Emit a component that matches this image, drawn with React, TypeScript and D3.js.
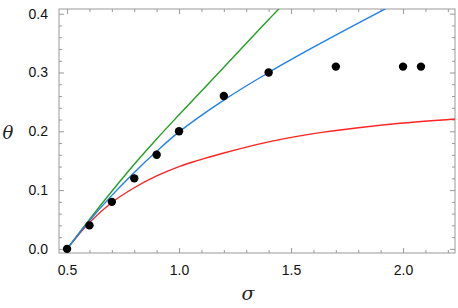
import React, { useEffect, useRef } from "react";
import * as d3 from "d3";

// data points (sigma, theta)
const dotSigma = [0.5, 0.6, 0.7, 0.8, 0.9, 1.0, 1.2, 1.4, 1.7, 2.0, 2.08];
const dotTheta = [0, 0.04, 0.08, 0.12, 0.16, 0.2, 0.26, 0.3, 0.31, 0.31, 0.31];

// curves
const greenSigma = [0.5, 0.6, 0.7, 0.8, 0.9, 1.0, 1.2, 1.4, 1.46];
const greenTheta = [0, 0.05, 0.098, 0.144, 0.187, 0.228, 0.309, 0.39, 0.414];

const blueSigma = [0.5, 0.6, 0.7, 0.8, 0.9, 1.0, 1.2, 1.4, 1.6, 1.8, 1.95];
const blueTheta = [0, 0.048, 0.091, 0.13, 0.166, 0.199, 0.253, 0.3, 0.343, 0.384, 0.414];

const redSigma = [0.5, 0.6, 0.7, 0.8, 0.9, 1.0, 1.2, 1.4, 1.6, 1.8, 2.0, 2.232];
const redTheta = [0, 0.045, 0.079, 0.104, 0.124, 0.14, 0.163, 0.182, 0.196, 0.206, 0.214, 0.221];

const xMajor = [0.5, 1.0, 1.5, 2.0];
const xMinor = [0.6, 0.7, 0.8, 0.9, 1.1, 1.2, 1.3, 1.4, 1.6, 1.7, 1.8, 1.9, 2.1, 2.2];
const yMajor = [0.0, 0.1, 0.2, 0.3, 0.4];
const yMinor = [0.02, 0.04, 0.06, 0.08, 0.12, 0.14, 0.16, 0.18, 0.22, 0.24, 0.26, 0.28, 0.32, 0.34, 0.36, 0.38];

const W = 458, H = 308;

export default function App() {
  const ref = useRef<SVGSVGElement>(null);

  useEffect(() => {
    const svg = d3.select(ref.current);
    svg.selectAll("*").remove();

    const left = 59, right = 455, top = 9, bottom = 253;
    const x = d3.scaleLinear().domain([0.464, 2.232]).range([left, right]);
    const y = d3.scaleLinear().domain([-0.007, 0.408]).range([bottom, top]);

    svg.append("defs").append("clipPath").attr("id", "plotclip")
      .append("rect")
      .attr("x", left).attr("y", top)
      .attr("width", right - left).attr("height", bottom - top);

    const frameColor = "#999";
    const styleAxis = (g: any) => {
      g.select(".domain").remove();
      g.selectAll("line").attr("stroke", frameColor);
      g.selectAll("text")
        .attr("fill", "#111")
        .style("font-family", "'Liberation Sans', Arial, sans-serif")
        .style("font-size", "14px");
    };

    // bottom
    svg.append("g").attr("transform", `translate(0,${bottom})`)
      .call(d3.axisBottom(x).tickValues(xMajor).tickSize(-5).tickPadding(12).tickFormat(d3.format(".1f")))
      .call(styleAxis);
    svg.append("g").attr("transform", `translate(0,${bottom})`)
      .call(d3.axisBottom(x).tickValues(xMinor).tickSize(-3).tickFormat(() => ""))
      .call(styleAxis);
    // top
    svg.append("g").attr("transform", `translate(0,${top})`)
      .call(d3.axisTop(x).tickValues(xMajor).tickSize(-5).tickFormat(() => ""))
      .call(styleAxis);
    svg.append("g").attr("transform", `translate(0,${top})`)
      .call(d3.axisTop(x).tickValues(xMinor).tickSize(-3).tickFormat(() => ""))
      .call(styleAxis);
    // left
    svg.append("g").attr("transform", `translate(${left},0)`)
      .call(d3.axisLeft(y).tickValues(yMajor).tickSize(-5).tickPadding(11).tickFormat(d3.format(".1f")))
      .call(styleAxis);
    svg.append("g").attr("transform", `translate(${left},0)`)
      .call(d3.axisLeft(y).tickValues(yMinor).tickSize(-3).tickFormat(() => ""))
      .call(styleAxis);
    // right
    svg.append("g").attr("transform", `translate(${right},0)`)
      .call(d3.axisRight(y).tickValues(yMajor).tickSize(-5).tickFormat(() => ""))
      .call(styleAxis);
    svg.append("g").attr("transform", `translate(${right},0)`)
      .call(d3.axisRight(y).tickValues(yMinor).tickSize(-3).tickFormat(() => ""))
      .call(styleAxis);

    svg.append("rect")
      .attr("x", left).attr("y", top)
      .attr("width", right - left).attr("height", bottom - top)
      .attr("fill", "none").attr("stroke", frameColor).attr("stroke-width", 1);

    const line = d3.line<[number, number]>()
      .x(d => x(d[0])).y(d => y(d[1]))
      .curve(d3.curveCatmullRom.alpha(0.5));

    const curves = [
      { s: redSigma, t: redTheta, color: "#ff2424" },
      { s: greenSigma, t: greenTheta, color: "#21a121" },
      { s: blueSigma, t: blueTheta, color: "#1f80f0" },
    ];
    const plot = svg.append("g").attr("clip-path", "url(#plotclip)");
    curves.forEach(c => {
      plot.append("path")
        .datum(c.s.map((s, i) => [s, c.t[i]] as [number, number]))
        .attr("d", line)
        .attr("fill", "none")
        .attr("stroke", c.color)
        .attr("stroke-width", 1.4);
    });

    svg.append("g").selectAll("circle")
      .data(dotSigma.map((s, i) => [s, dotTheta[i]]))
      .enter().append("circle")
      .attr("cx", d => x(d[0]))
      .attr("cy", d => y(d[1]))
      .attr("r", 4.2)
      .attr("fill", "#000");

    svg.append("text")
      .attr("x", 8).attr("y", 139)
      .attr("text-anchor", "middle")
      .style("font-family", "'DejaVu Serif', 'Liberation Serif', serif")
      .style("font-style", "italic")
      .style("font-size", "18px")
      .attr("fill", "#222")
      .text("θ");

    svg.append("text")
      .attr("x", 248).attr("y", 300)
      .attr("text-anchor", "middle")
      .style("font-family", "'DejaVu Serif', 'Liberation Serif', serif")
      .style("font-style", "italic")
      .style("font-size", "19px")
      .attr("fill", "#222")
      .text("σ");
  }, []);

  return (
    <div style={{ position: "absolute", left: 0, top: 0 }}>
      <svg ref={ref} width={W} height={H} style={{ display: "block", background: "#fff" }} />
    </div>
  );
}
